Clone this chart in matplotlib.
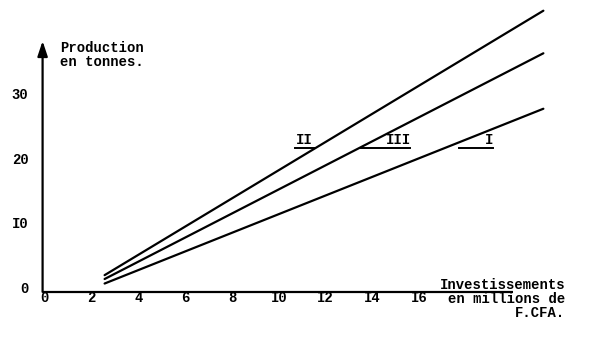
import matplotlib
matplotlib.use('agg')
import matplotlib.pyplot as plt

# three production curves (start / end points)
series = ['I', 'II', 'III']
x_start = [2.55, 2.55, 2.55]
x_end = [21.3, 21.3, 21.3]
y_start = [1.0, 2.3, 1.7]
y_end = [28.1, 43.3, 36.7]

# curve labels, with the typed underline leading to each
label_x = [19.0, 11.1, 15.1]
label_y = 23.3
underline_from = [17.7, 10.7, 13.5]
underline_to = [19.15, 11.55, 15.6]

x_ticks = [0, 2, 4, 6, 8, 10, 12, 14, 16]
x_tick_labels = ['0', '2', '4', '6', '8', 'I0', 'I2', 'I4', 'I6']
y_ticks = [0, 10, 20, 30]
y_tick_labels = ['0', 'I0', '20', '30']

plt.rcParams['font.family'] = ['Liberation Mono', 'DejaVu Sans Mono']
plt.rcParams['font.weight'] = 'bold'
plt.rcParams['font.size'] = 10

fig = plt.figure(figsize=(6, 3.37), dpi=100)
ax = fig.add_axes([0, 0, 1, 1])
ax.set_xlim(-1.92, 23.72)
ax.set_ylim(-7.29, 44.96)
ax.axis('off')

# axes drawn by hand, like the typed original
ax.plot([-0.1, 20.0], [-0.3, -0.3], color='black', lw=1.6, solid_capstyle='butt')
ax.annotate('', xy=(-0.1, 38.6), xytext=(-0.1, -0.3),
            arrowprops=dict(arrowstyle='-|>,head_length=0.9,head_width=0.3',
                            color='black', lw=1.6, shrinkA=0, shrinkB=0))

for xs, xe, ys, ye in zip(x_start, x_end, y_start, y_end):
    ax.plot([xs, xe], [ys, ye], color='black', lw=1.6, solid_capstyle='round')

for name, lx, u0, u1 in zip(series, label_x, underline_from, underline_to):
    ax.text(lx, label_y, name, ha='center', va='center', fontsize=10)
    ax.plot([u0, u1], [label_y - 1.25, label_y - 1.25], color='black', lw=1.4)

for t, lab in zip(x_ticks, x_tick_labels):
    ax.text(t, -1.3, lab, ha='center', va='center')
for t, lab in zip(y_ticks, y_tick_labels):
    ax.text(-0.7, t + 0.2, lab, ha='right', va='center')

ax.text(0.65, 38.6, 'Production\nen tonnes.', ha='left', va='top',
        linespacing=1.0)
ax.text(22.25, 1.9, 'Investissements\nen millions de\nF.CFA.', ha='right',
        va='top', linespacing=1.0)

fig.savefig('out.png', dpi=100)
